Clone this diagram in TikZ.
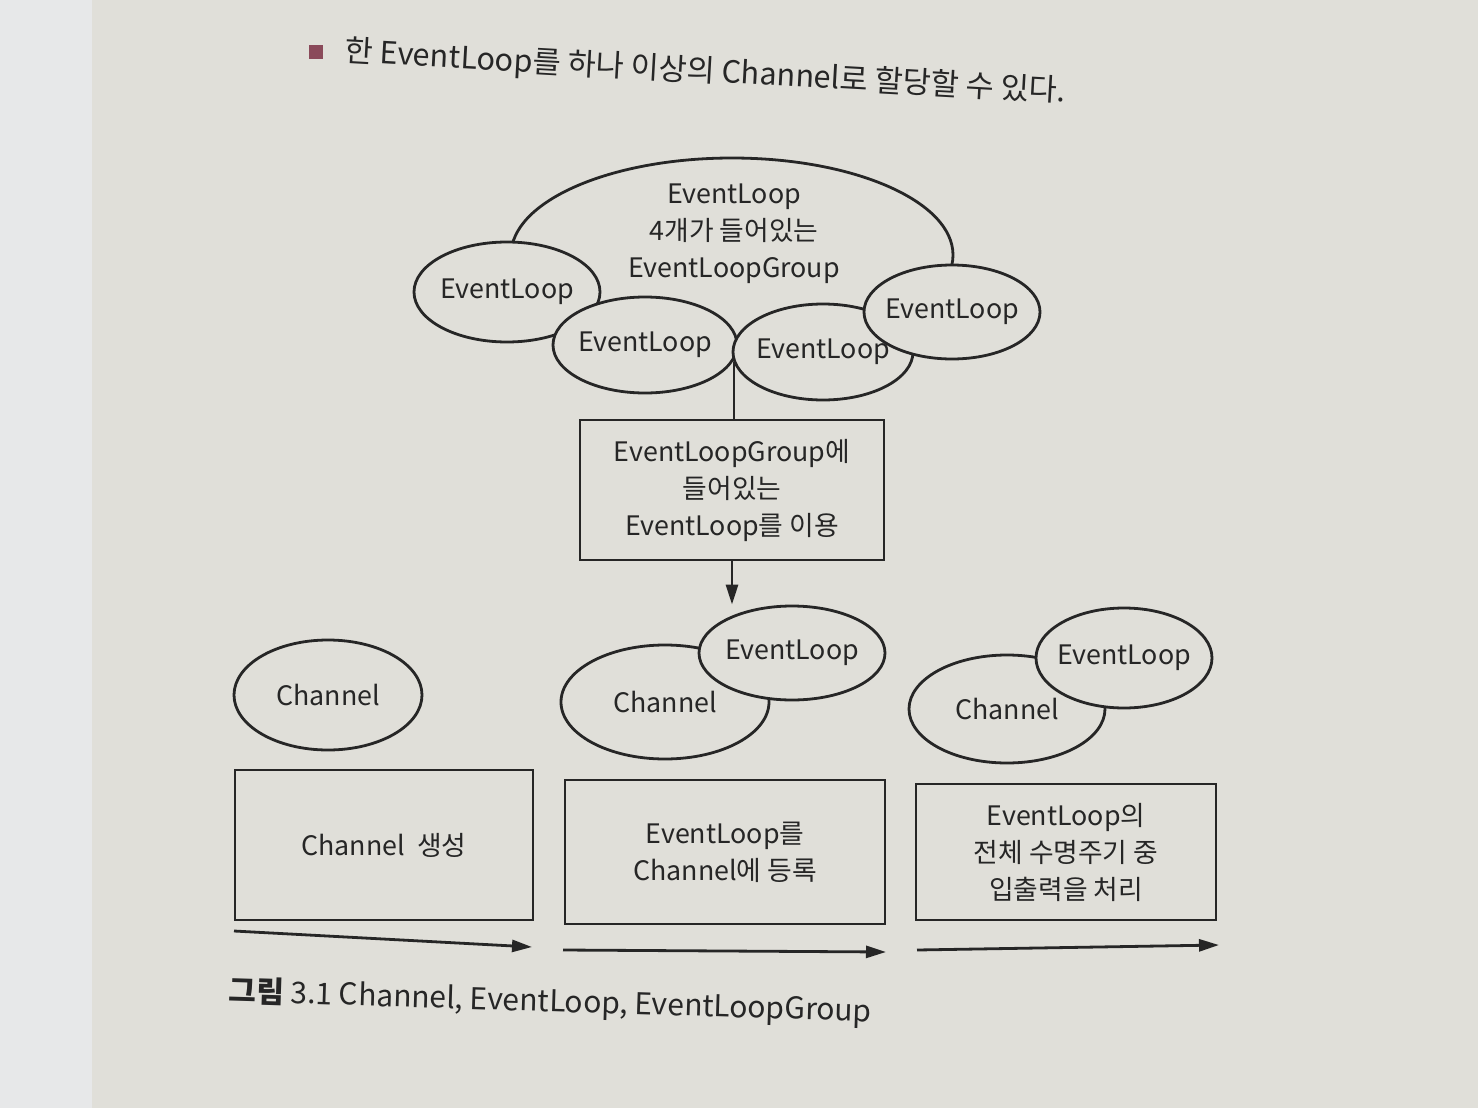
\documentclass[tikz,border=0pt]{standalone}
\usepackage{fontspec}
\newfontfamily\kr{Noto Sans CJK KR}
\usetikzlibrary{shapes.geometric}
\usetikzlibrary{arrows.meta}
\usetikzlibrary{positioning}
\definecolor{paper}{HTML}{E0DFD9}
\definecolor{leaf}{HTML}{E7E8E9}
\definecolor{ink}{HTML}{262626}
\definecolor{mark}{HTML}{8A4A5A}

\tikzset{
  loop/.style={ellipse, draw=ink, line width=1.4pt, fill=paper, inner xsep=-4pt,
    inner ysep=0pt, text=ink, font=\kr\fontsize{13.4}{18}\selectfont},
  stage/.style={rectangle, draw=ink, line width=1.4pt, fill=paper, align=center,
    inner sep=0pt, text=ink, font=\kr\fontsize{13.4}{18.5}\selectfont},
  flow/.style={draw=ink, line width=1.4pt, -{Triangle[length=10pt,width=6pt]}},
}

\begin{document}
\begin{tikzpicture}[x=0.5pt,y=-0.5pt]
   \useasboundingbox[fill=paper] (0,0) rectangle (1478,1108);
   \fill[leaf] (0,0) rectangle (92,1108);

   % bullet line
   \node[fill=mark, minimum size=7pt, inner sep=0pt] (dot) at (316,52) {};
   \node[anchor=west, rotate=-3.2, text=ink, font=\kr\fontsize{15.3}{18}\selectfont]
      (note) at (338,52) {한 EventLoop를 하나 이상의 Channel로 할당할 수 있다.};

   % group of four loops
   \node[loop, minimum width=221pt, minimum height=97pt] (grp) at (732,255) {};
   \node[text=ink, align=center, font=\kr\fontsize{13.4}{18.5}\selectfont]
      (grplbl) at (734,234) {EventLoop\\4개가 들어있는\\EventLoopGroup};
   \node[loop, minimum width=93pt, minimum height=50pt] (el1) at (507,292) {EventLoop};
   \node[loop, minimum width=92pt, minimum height=48pt] (el2) at (645,345) {EventLoop};
   \node[loop, minimum width=90pt, minimum height=48pt] (el3) at (823,352) {EventLoop};
   \node[loop, minimum width=88pt, minimum height=47pt] (el4) at (952,312) {EventLoop};

   \node[stage, minimum width=152pt, minimum height=70pt] (use) at (732,490)
      {EventLoopGroup에\\들어있는\\EventLoop를 이용};

   % channels
   \node[loop, minimum width=94pt, minimum height=55pt] (ch1) at (328,695) {Channel};
   \node[loop, minimum width=104pt, minimum height=57pt] (ch2) at (665,702) {Channel};
   \node[loop, minimum width=93pt, minimum height=47pt] (el5) at (792,653) {EventLoop};
   \node[loop, minimum width=98pt, minimum height=54pt] (ch3) at (1007,709) {Channel};
   \node[loop, minimum width=88pt, minimum height=50pt] (el6) at (1124,658) {EventLoop};

   \coordinate (tie) at (734,362);
   \draw[draw=ink, line width=1.4pt] (tie) -- (tie |- use.north);
   \draw[flow] (use.south) -- (use.south |- el5.north);

   % stages
   \node[stage, minimum width=149pt, minimum height=75pt] (mk) at (384,845) {Channel\ \ 생성};
   \node[stage, minimum width=160pt, minimum height=72pt] (reg) at (725,852)
      {EventLoop를\\Channel에 등록};
   \node[stage, minimum width=150pt, minimum height=68pt] (io) at (1066,852)
      {EventLoop의\\전체 수명주기 중\\입출력을 처리};

   \coordinate (s1) at (234,931);
   \coordinate (t1) at (532,947);
   \coordinate (s2) at (563,950);
   \coordinate (t2) at (886,952);
   \coordinate (s3) at (917,950);
   \coordinate (t3) at (1219,945);
   \draw[flow] (s1) -- (t1);
   \draw[flow] (s2) -- (t2);
   \draw[flow] (s3) -- (t3);

   \node[anchor=west, rotate=-1.8, text=ink, font=\kr\fontsize{15}{20}\selectfont]
      (cap) at (222,992) {\textbf{그림} 3.1 Channel, EventLoop, EventLoopGroup};
\end{tikzpicture}
\end{document}
